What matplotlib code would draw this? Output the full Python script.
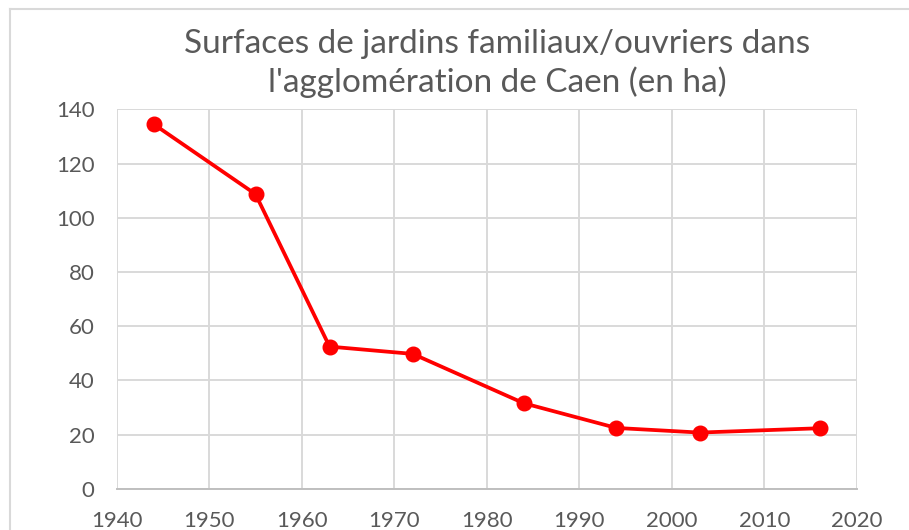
import matplotlib
matplotlib.use("Agg")
import matplotlib.pyplot as plt

# data
years = [1944, 1955, 1963, 1972, 1984, 1994, 2003, 2016]
surface_ha = [134.5, 108.7, 52.5, 49.8, 31.6, 22.5, 20.8, 22.4]

x_ticks = [1940, 1950, 1960, 1970, 1980, 1990, 2000, 2010, 2020]
y_ticks = [0, 20, 40, 60, 80, 100, 120, 140]

title = "Surfaces de jardins familiaux/ouvriers dans\nl'agglomération de Caen (en ha)"

TEXT_GREY = "#595959"
GRID_GREY = "#d9d9d9"

plt.rcParams["font.family"] = ["Lato", "DejaVu Sans"]

fig = plt.figure(figsize=(9.09, 5.30), dpi=100)
ax = fig.add_axes([0.1284, 0.0774, 0.8144, 0.7164])

ax.plot(years, surface_ha, color="#ff0000", linewidth=2.7,
        marker="o", markersize=10.5, zorder=3)

ax.set_xlim(1940, 2020)
ax.set_ylim(0, 140)
ax.set_xticks(x_ticks)
ax.set_yticks(y_ticks)
ax.grid(True, color=GRID_GREY, linewidth=1.4)
ax.set_axisbelow(True)
for side in ["top", "right", "left"]:
    ax.spines[side].set_visible(False)
ax.spines["bottom"].set_color("#bfbfbf")
ax.spines["bottom"].set_linewidth(1.4)
ax.tick_params(axis="both", length=0, labelsize=16, labelcolor=TEXT_GREY)
ax.tick_params(axis="x", pad=16)
ax.tick_params(axis="y", pad=16)

fig.text(0.547, 0.945, title, ha="center", va="top", fontsize=24,
         color=TEXT_GREY, linespacing=1.28)

# chart area border (only top and left visible in the crop)
fig.add_artist(plt.Line2D([10 / 909, 1.0], [1 - 9 / 530, 1 - 9 / 530],
                          transform=fig.transFigure, color=GRID_GREY, linewidth=1.5))
fig.add_artist(plt.Line2D([10 / 909, 10 / 909], [0.0, 1 - 9 / 530],
                          transform=fig.transFigure, color=GRID_GREY, linewidth=1.5))

fig.savefig("out.png", dpi=100)
